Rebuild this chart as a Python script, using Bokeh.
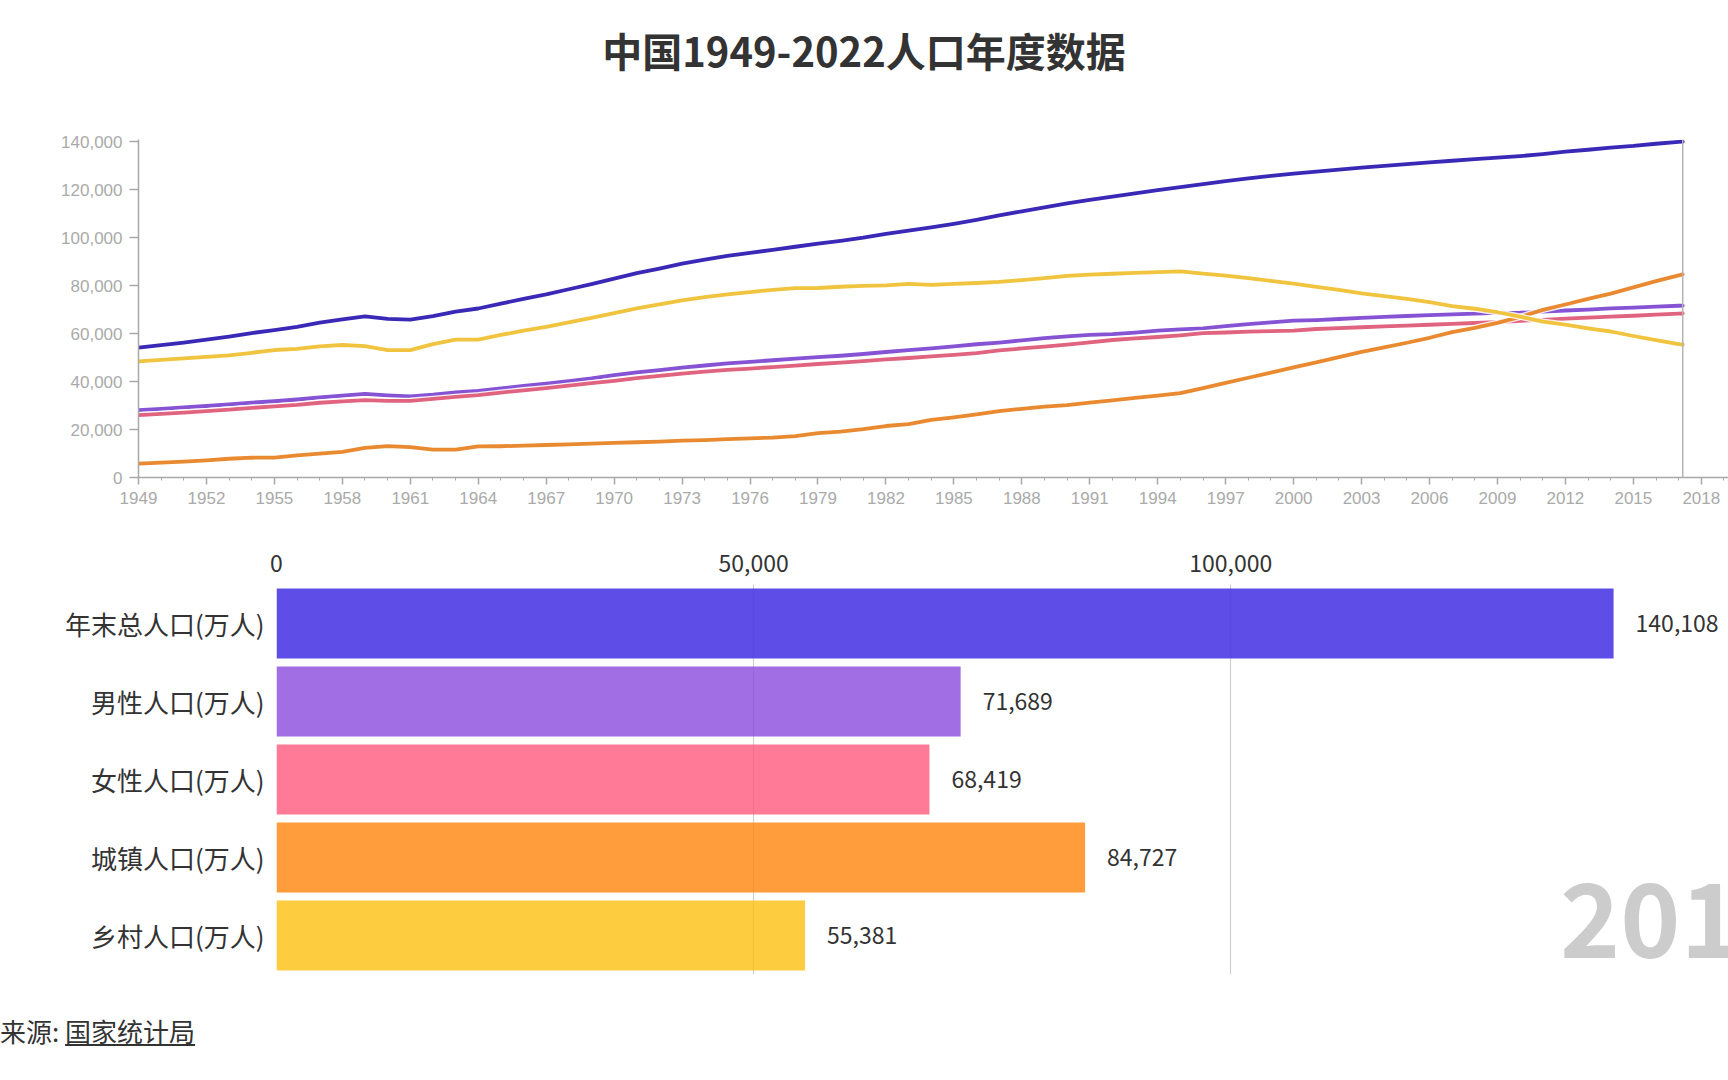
from bokeh.plotting import figure
from bokeh.models import (Range1d, FactorRange, FixedTicker, PrintfTickFormatter,
                          NumeralTickFormatter, Span, Label, ColumnDataSource, Div, Grid)
from bokeh.layouts import column
from bokeh.embed import file_html
from bokeh.resources import INLINE
from bokeh.core.properties import value

# ---------------- data ----------------
title_text = "中国1949-2022人口年度数据"
source_label = "来源: "
source_name = "国家统计局"

years = list(range(1949, 2018))
total = [54167, 55196, 56300, 57482, 58796, 60266, 61465, 62828, 64653, 65994,
         67207, 66207, 65859, 67296, 69172, 70499, 72538, 74542, 76368, 78534,
         80671, 82992, 85229, 87177, 89211, 90859, 92420, 93717, 94974, 96259,
         97542, 98705, 100072, 101654, 103008, 104357, 105851, 107507, 109300, 111026,
         112704, 114333, 115823, 117171, 118517, 119850, 121121, 122389, 123626, 124761,
         125786, 126743, 127627, 128453, 129227, 129988, 130756, 131448, 132129, 132802,
         133450, 134091, 134916, 135922, 136726, 137646, 138326, 139232, 140011]
male = [28145, 28669, 29231, 29833, 30468, 31242, 31809, 32536, 33469, 34195,
        34890, 34283, 33880, 34517, 35533, 36142, 37128, 38189, 39115, 40226,
        41309, 42686, 43819, 44813, 45876, 46727, 47564, 48257, 48908, 49567,
        50192, 50785, 51519, 52352, 53152, 53848, 54725, 55581, 56290, 57201,
        58099, 58904, 59466, 59811, 60472, 61246, 61808, 62200, 63131, 63940,
        64692, 65437, 65672, 66115, 66556, 66976, 67375, 67728, 68048, 68357,
        68647, 68748, 69161, 69660, 70063, 70522, 70857, 71307, 71650]
female = [26022, 26527, 27069, 27649, 28328, 29024, 29656, 30292, 31184, 31799,
          32317, 31924, 31979, 32779, 33639, 34357, 35410, 36353, 37253, 38308,
          39362, 40306, 41410, 42364, 43335, 44132, 44856, 45460, 46066, 46692,
          47350, 47920, 48553, 49302, 49856, 50509, 51126, 51926, 53010, 53825,
          54605, 55429, 56357, 57360, 58045, 58604, 59313, 60189, 60495, 60821,
          61094, 61306, 61955, 62338, 62671, 63012, 63381, 63720, 64081, 64445,
          64803, 65343, 65755, 66262, 66663, 67124, 67469, 67925, 68361]
urban = [5765, 6169, 6632, 7163, 7826, 8249, 8285, 9185, 9949, 10721,
         12371, 13073, 12707, 11659, 11646, 12950, 13045, 13313, 13548, 13838,
         14117, 14424, 14711, 14935, 15345, 15595, 16030, 16341, 16669, 17245,
         18495, 19140, 20171, 21480, 22274, 24017, 25094, 26366, 27674, 28661,
         29540, 30195, 31203, 32175, 33173, 34169, 35174, 37304, 39449, 41608,
         43748, 45906, 48064, 50212, 52376, 54283, 56212, 58288, 60633, 62403,
         64512, 66978, 69927, 72175, 74502, 76738, 79302, 81924, 84343]
rural = [48402, 49027, 49668, 50319, 50970, 52017, 53180, 53643, 54704, 55273,
         54836, 53134, 53152, 55636, 57526, 57549, 59493, 61229, 62820, 64696,
         66554, 68568, 70518, 72242, 73866, 75264, 76390, 77376, 78305, 79014,
         79047, 79565, 79901, 80174, 80734, 80340, 80757, 81141, 81626, 82365,
         83164, 84138, 84620, 84996, 85344, 85681, 85947, 85085, 84177, 83153,
         82038, 80837, 79563, 78241, 76851, 75705, 74544, 73160, 71496, 70399,
         68938, 67113, 64989, 63747, 62224, 60908, 59024, 57308, 55668]

current_year = 2017.18
categories = ["年末总人口(万人)", "男性人口(万人)", "女性人口(万人)", "城镇人口(万人)", "乡村人口(万人)"]
current_values = [140108, 71689, 68419, 84727, 55381]

x_ticks = list(range(1949, 2019, 3))
x_minor = list(range(1949, 2020))
y_ticks = list(range(0, 140001, 20000))
bar_ticks = [0, 50000, 100000]

line_colors = ["#3a29b6", "#8553d3", "#e0637f", "#e98a30", "#f0c43f"]
bar_colors = ["#5f4de8", "#a16ee4", "#ff7a96", "#ff9c3b", "#fecd3f"]

CJK = "Noto Sans CJK SC"
LAT = "Liberation Sans"
AX = "#a8a8a8"
W = 1728

# ---------------- title ----------------
title_div = Div(text=(f'<div style="width:{W}px;text-align:center;padding-top:26px;line-height:48px;'
                      f'font-family:\'{CJK}\';font-size:40px;font-weight:bold;color:#333;">'
                      f'{title_text}</div>'),
                width=W, height=100, margin=(0, 0, 0, 0))

# ---------------- line chart ----------------
p1 = figure(width=W, height=428, x_range=Range1d(1949, 2019.2), y_range=Range1d(0, 141000),
            output_backend="svg", toolbar_location=None,
            min_border_left=138, min_border_right=0, min_border_top=39, min_border_bottom=51)
p1.frame_align = False
p1.outline_line_color = None
p1.grid.visible = False

xa = p1.xaxis[0]
xa.ticker = FixedTicker(ticks=x_ticks, minor_ticks=x_minor)
xa.formatter = PrintfTickFormatter(format="%d")
xa.axis_line_color = AX
xa.axis_line_width = 1.5
xa.major_tick_line_color = AX
xa.major_tick_line_width = 1.5
xa.major_tick_in = 0
xa.major_tick_out = 7
xa.minor_tick_line_color = AX
xa.minor_tick_in = 0
xa.minor_tick_out = 3
xa.major_label_text_color = "#aaaaaa"
xa.major_label_text_font = LAT
xa.major_label_text_font_size = "17px"
xa.major_label_standoff = 7

ya = p1.yaxis[0]
ya.ticker = FixedTicker(ticks=y_ticks)
ya.formatter = NumeralTickFormatter(format="0,0")
ya.axis_line_color = AX
ya.axis_line_width = 1.5
ya.major_tick_line_color = AX
ya.major_tick_line_width = 1.5
ya.major_tick_in = 0
ya.major_tick_out = 9
ya.minor_tick_line_color = None
ya.major_label_text_color = "#aaaaaa"
ya.major_label_text_font = LAT
ya.major_label_text_font_size = "17px"
ya.major_label_standoff = 7

series = [total, male, female, urban, rural]
for s, cur, col in zip(series, current_values, line_colors):
    xs = years + [current_year]
    ys = s + [cur]
    p1.line(xs, ys, line_color="white", line_width=6.5, line_alpha=0.85, line_join="round")
    p1.line(xs, ys, line_color=col, line_width=3.8, line_join="round", line_cap="round")

p1.add_layout(Span(location=current_year, dimension="height", line_color="#b4b4b4", line_width=1.5))

# ---------------- bar chart ----------------
p2 = figure(width=W, height=462, y_range=FactorRange(factors=categories[::-1], range_padding=0),
            x_range=Range1d(0, 152150), x_axis_location="above",
            output_backend="svg", toolbar_location=None,
            min_border_left=276, min_border_right=0, min_border_top=56, min_border_bottom=16)
p2.frame_align = False
p2.outline_line_color = None
p2.ygrid.visible = False
p2.xgrid.ticker = FixedTicker(ticks=bar_ticks)
p2.xgrid.grid_line_color = "#dadada"
p2.xgrid.grid_line_width = 1.2
p2.add_layout(Grid(dimension=0, ticker=FixedTicker(ticks=bar_ticks), grid_line_color="#000000",
                   grid_line_alpha=0.05, grid_line_width=1.2, level="overlay"))

src = ColumnDataSource(dict(cat=categories, v=current_values, color=bar_colors,
                            label=[f"{v:,}" for v in current_values]))
p2.hbar(y="cat", right="v", height=0.9, left=0, fill_color="color", fill_alpha=1.0,
        line_color=None, source=src)
p2.text(x="v", y="cat", text="label", x_offset=22, text_baseline="middle", text_align="left",
        text_font=value(CJK), text_font_size="23px", text_color="#333333", source=src)

bx = p2.xaxis[0]
bx.ticker = FixedTicker(ticks=bar_ticks)
bx.formatter = NumeralTickFormatter(format="0,0")
bx.axis_line_color = None
bx.major_tick_line_color = None
bx.minor_tick_line_color = None
bx.major_label_text_font = CJK
bx.major_label_text_font_size = "23px"
bx.major_label_text_color = "#333333"
bx.major_label_standoff = 7

by = p2.yaxis[0]
by.axis_line_color = None
by.major_tick_line_color = None
by.minor_tick_line_color = None
by.major_label_text_font = CJK
by.major_label_text_font_size = "26px"
by.major_label_text_color = "#333333"
by.major_label_standoff = 6

p2.add_layout(Label(x=134500, y=0.705, text=str(int(current_year)),
                    text_font=CJK, text_font_size="102px", text_font_style="bold",
                    text_color="#cccccc", text_baseline="middle", text_align="left"))

footer = Div(text=(f'<div style="padding-top:26px;line-height:29px;'
                   f'font-family:\'{CJK}\';font-size:26px;color:#333;white-space:nowrap;">'
                   f'{source_label}<u>{source_name}</u></div>'),
             width=W, height=70, margin=(0, 0, 0, 0))

layout = column(title_div, p1, p2, footer, spacing=0)
open("out.html", "w").write(file_html(layout, INLINE, title=title_text))
